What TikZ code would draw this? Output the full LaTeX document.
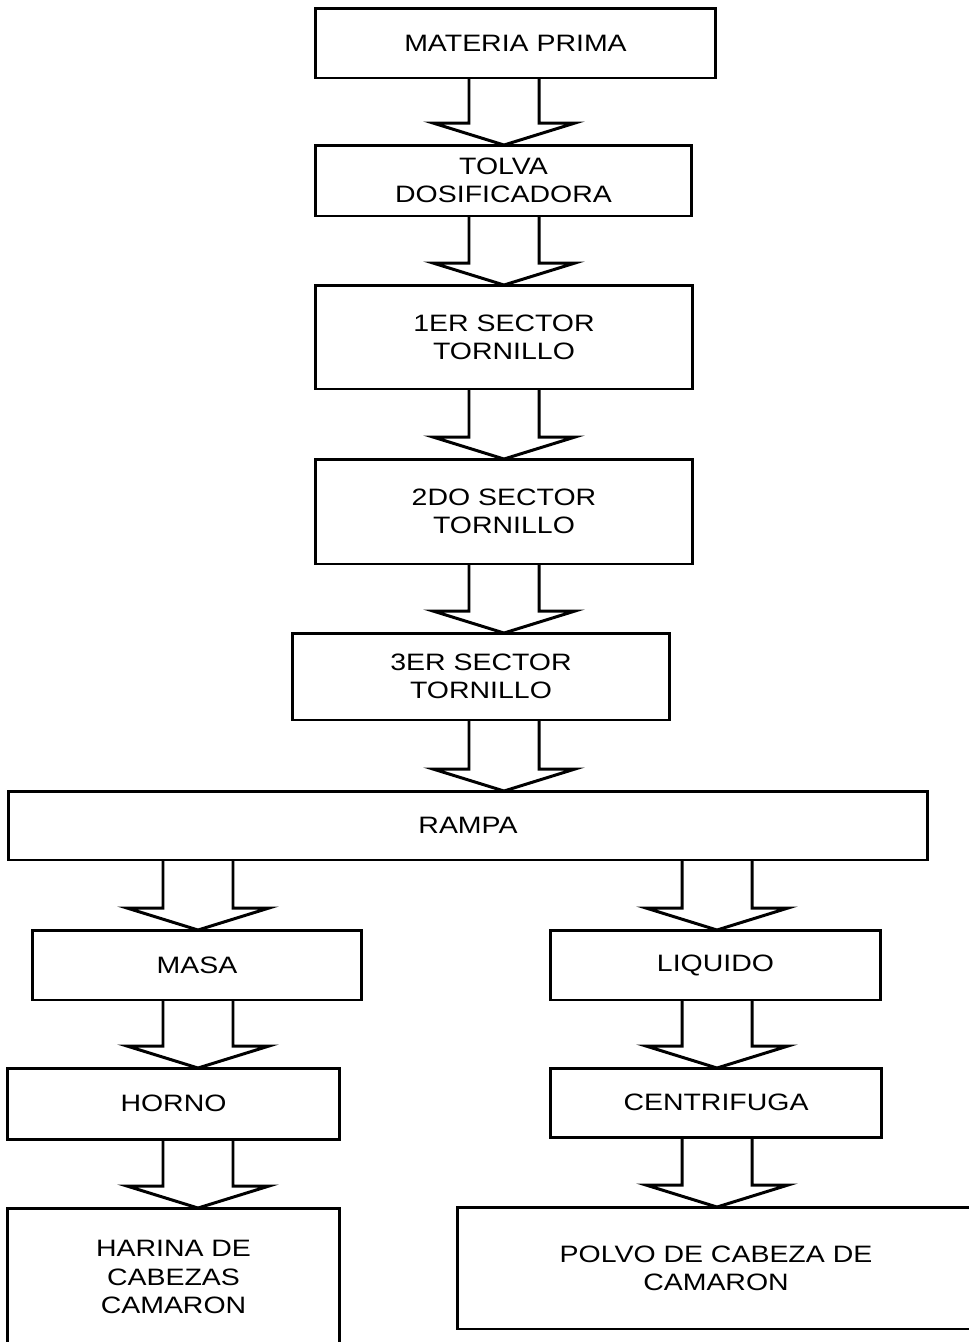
\documentclass[tikz,border=0pt]{standalone}
\usepackage{fontspec}
\setmainfont{Liberation Sans}[FakeStretch=1.2]
\usetikzlibrary{calc, positioning}

\begin{document}
\begin{tikzpicture}
  [x=0.02cm, y=-0.02cm,
   box/.style = {
     draw=black, line width=1.7pt, rectangle, align=center,
     inner sep=0pt, outer sep=0pt, font=\fontsize{13.5}{16}\selectfont},
   flow/.style = {draw=black, line width=1.7pt, line join=miter}
  ]
  \useasboundingbox (0,0) rectangle (969,1342);

  % central column
  \node[box, minimum width=8.0cm,  minimum height=1.4cm]  (materia) at (515.5,43)    {MATERIA PRIMA};
  \node[box, minimum width=7.54cm, minimum height=1.42cm] (tolva)   at (503.5,180.5) {TOLVA\\DOSIFICADORA};
  \node[box, minimum width=7.56cm, minimum height=2.08cm] (sector1) at (504,337)     {1ER SECTOR\\TORNILLO};
  \node[box, minimum width=7.56cm, minimum height=2.1cm]  (sector2) at (504,511.5)   {2DO SECTOR\\TORNILLO};
  \node[box, minimum width=7.56cm, minimum height=1.74cm] (sector3) at (481,676.5)   {3ER SECTOR\\TORNILLO};
  \node[box, minimum width=18.4cm, minimum height=1.38cm] (rampa)   at (468,825.5)   {RAMPA};

  % left branch
  \node[box, minimum width=6.6cm,  minimum height=1.4cm]  (masa)    at (197,965)     {MASA};
  \node[box, minimum width=6.66cm, minimum height=1.42cm] (horno)   at (173.5,1103.5) {HORNO};
  \node[box, minimum width=6.66cm, minimum height=2.76cm] (harina)  at (173.5,1277)  {HARINA DE\\CABEZAS\\CAMARON};

  % right branch
  \node[box, minimum width=6.62cm, minimum height=1.4cm]  (liquido)    at (715.5,965)  {LIQUIDO};
  \node[box, minimum width=6.64cm, minimum height=1.38cm] (centrifuga) at (716,1102.5) {CENTRIFUGA};
  \node[box, minimum width=10.36cm, minimum height=2.44cm] (polvo)     at (716,1268)   {POLVO DE CABEZA DE\\CAMARON};

  % block arrows
  \foreach \a/\b/\x in {materia/tolva/504, tolva/sector1/504, sector1/sector2/504,
                        sector2/sector3/504, sector3/rampa/504,
                        rampa/masa/198, masa/horno/198, horno/harina/198,
                        rampa/liquido/717, liquido/centrifuga/717, centrifuga/polvo/717}
  {
    \coordinate (c) at (\x,0);
    \draw[flow] ($(c |- \a.south)+(-35,0)$) -- ($(c |- \b.north)+(-35,-22)$) -- ++(-36,0)
      -- (c |- \b.north) -- ++(71,-22) -- ++(-36,0) -- ($(c |- \a.south)+(35,0)$);
  }
\end{tikzpicture}
\end{document}
